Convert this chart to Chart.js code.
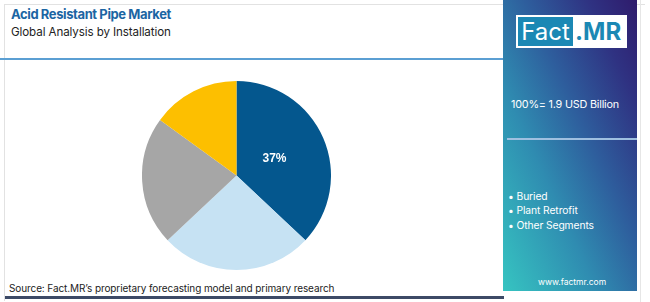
<!DOCTYPE html>
<html lang="en">
<head>
<meta charset="UTF-8">
<title>Acid Resistant Pipe Market</title>
<script src="https://cdn.jsdelivr.net/npm/chart.js"></script>
<style>
  html, body { margin: 0; padding: 0; background: #fff; }
  body { width: 650px; height: 302px; position: relative; overflow: hidden; font-family: Inter, "Open Sans", sans-serif; }
  .frame { position: absolute; left: 4px; top: 4px; width: 640px; height: 296px; border-left: 1px solid #e2e2e2; border-top: 1px solid #e2e2e2; }
  .title { position: absolute; left: 11px; top: 6px; font-size: 13px; font-weight: 700; color: #1b65a3; letter-spacing: -0.4px; }
  .subtitle { position: absolute; left: 11px; top: 25px; font-size: 11.6px; color: #222; letter-spacing: -0.1px; }
  .hline { position: absolute; left: 0; top: 58px; width: 504px; height: 1.5px; background: #5b9fd3; }
  .bottomline { position: absolute; left: 5px; top: 296px; width: 499px; height: 3px; background: #3d4a66; }
  .source { position: absolute; left: 9px; top: 282px; font-size: 10px; color: #222; letter-spacing: -0.1px; }
  .panel { position: absolute; left: 503px; top: 0; width: 134px; height: 291px;
    background: linear-gradient(to top right, #36c4c1 0%, #2f8cb1 35%, #2e5e9d 58%, #2f3282 82%, #2f1b6c 100%); }
  .panel-edge { position: absolute; left: 640px; top: 0; width: 1px; height: 302px; background: #e6e6e6; }
  .logo { position: absolute; left: 13px; top: 15px; width: 111px; height: 33px; background: #fff; }
  .logo .fact { position: absolute; left: 2px; top: 2px; width: 55px; height: 29px; background: #1b88b4; color: #fff; font-size: 24px; line-height: 29px; text-align: center; }
  .logo .mr { position: absolute; left: 59px; top: 2px; height: 29px; color: #1b88b4; font-size: 24px; font-weight: 700; line-height: 29px; }
  .total { position: absolute; left: 8px; top: 98px; font-size: 10.8px; color: #fff; letter-spacing: -0.2px; }
  .pline { position: absolute; left: 4px; top: 138px; width: 130px; height: 1.5px; background: #9fc0e0; }
  .legend { position: absolute; left: 5px; top: 189px; margin: 0; padding: 0; list-style: none; color: #fff; font-size: 10.3px; line-height: 14.3px; letter-spacing: -0.1px; }
  .url { position: absolute; left: 35px; top: 277px; font-size: 8.5px; color: #fff; }
  .pie { position: absolute; left: 142px; top: 81px; width: 189px; height: 189px; }
</style>
</head>
<body>
<div class="frame"></div>
<div class="title">Acid Resistant Pipe Market</div>
<div class="subtitle">Global Analysis by Installation</div>
<div class="hline"></div>
<div class="pie"><canvas id="pieChart"></canvas></div>
<div class="source">Source: Fact.MR’s proprietary forecasting model and primary research</div>
<div class="bottomline"></div>
<div class="panel">
  <div class="logo"><div class="fact">Fact</div><div class="mr">.MR</div></div>
  <div class="total">100%= 1.9 USD Billion</div>
  <div class="pline"></div>
  <ul class="legend" id="legend"></ul>
  <div class="url">www.factmr.com</div>
</div>
<div class="panel-edge"></div>

<script>
  // legend names (the panel lists three), slice shares in %, slice colours
  const legendNames = ['Buried', 'Plant Retrofit', 'Other Segments'];
  const sliceLabels = ['Buried', 'Plant Retrofit', 'Other Segments', ''];
  const shares = [37, 26, 22, 15];
  const colors = ['#04578e', '#c6e2f3', '#a6a6a6', '#fdbf00'];
  const shownLabels = ['37%', '', '', ''];

  document.getElementById('legend').innerHTML = legendNames.map(n => `<li>• ${n}</li>`).join('');

  const sliceText = {
    id: 'sliceText',
    afterDatasetsDraw(chart) {
      const ctx = chart.ctx;
      chart.getDatasetMeta(0).data.forEach((arc, i) => {
        if (!shownLabels[i]) return;
        const mid = (arc.startAngle + arc.endAngle) / 2;
        const r = arc.outerRadius * 0.45;
        ctx.save();
        ctx.fillStyle = '#fff';
        ctx.font = 'bold 12px Arial, "Liberation Sans", sans-serif';
        ctx.textAlign = 'center';
        ctx.textBaseline = 'middle';
        ctx.fillText(shownLabels[i], arc.x + Math.cos(mid) * r - 1, arc.y + Math.sin(mid) * r);
        ctx.restore();
      });
    }
  };

  new Chart(document.getElementById('pieChart'), {
    type: 'pie',
    data: {
      labels: sliceLabels,
      datasets: [{ data: shares, backgroundColor: colors, borderWidth: 0 }]
    },
    options: {
      responsive: true,
      maintainAspectRatio: false,
      animation: false,
      layout: { padding: 0 },
      plugins: { legend: { display: false }, tooltip: { enabled: false } }
    },
    plugins: [sliceText]
  });
</script>
</body>
</html>
